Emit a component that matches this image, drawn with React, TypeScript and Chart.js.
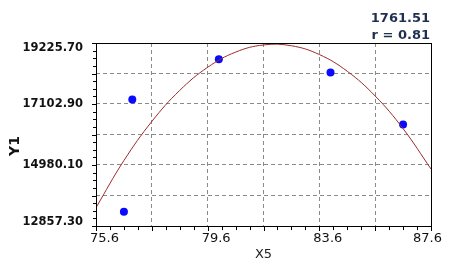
import React, { useEffect, useRef } from "react";
import { Chart, registerables } from "chart.js";

Chart.register(...registerables);

// ---- data ----
const pointX = [76.6, 76.9, 80.0, 84.0, 86.6];
const pointY = [13357, 17256, 18657, 18202, 16392];

const fitX = [75.6, 76.6, 77.6, 78.6, 79.6, 80.6, 81.6, 82.6, 83.6, 84.6, 85.6, 86.6, 87.6];
const fitY = [13497, 15135, 16495, 17577, 18381, 18908, 19158, 19130, 18825, 18242, 17382, 16245, 14841];

const xTickLabels = ["75.6", "79.6", "83.6", "87.6"];
const yTickLabels = ["12857.30", "14980.10", "17102.90", "19225.70"];
const statLines = ["1761.51", "r = 0.81"];
const xTitle = "X5";
const yTitle = "Y1";

const X_MIN = parseFloat(xTickLabels[0]);
const X_MAX = parseFloat(xTickLabels[xTickLabels.length - 1]);
const Y_MIN = parseFloat(yTickLabels[0]);
const Y_MAX = parseFloat(yTickLabels[yTickLabels.length - 1]);
const SUB = 8; // minor ticks per labelled interval
const GRID_EVERY = 4; // grid line every 4 minor ticks

function steps(min: number, max: number, n: number) {
  const out: number[] = [];
  for (let i = 0; i <= n; i++) out.push(min + ((max - min) * i) / n);
  return out;
}

const xTickVals = steps(X_MIN, X_MAX, (xTickLabels.length - 1) * SUB);
const yTickVals = steps(Y_MIN, Y_MAX, (yTickLabels.length - 1) * SUB);

const FONT = "'DejaVu Sans', Verdana, sans-serif";

export default function App() {
  const ref = useRef<HTMLCanvasElement | null>(null);

  useEffect(() => {
    document.body.style.margin = "0";
    const canvas = ref.current!;
    const overlay = {
      id: "overlay",
      afterDraw(chart: any) {
        const { ctx, chartArea } = chart;
        const xs = chart.scales.x;
        const ys = chart.scales.y;
        const L = Math.round(chartArea.left);
        const T = Math.round(chartArea.top);
        const R = Math.round(chartArea.right);
        const B = Math.round(chartArea.bottom);
        ctx.save();
        // frame
        ctx.strokeStyle = "#000";
        ctx.lineWidth = 1;
        ctx.strokeRect(L + 0.5, T + 0.5, R - L, B - T);
        // tick marks
        ctx.beginPath();
        xTickVals.forEach((v, i) => {
          const px = Math.round(xs.getPixelForValue(v)) + 0.5;
          const len = i % GRID_EVERY === 0 ? 4 : 3;
          ctx.moveTo(px, B + 1);
          ctx.lineTo(px, B + 1 + len);
        });
        yTickVals.forEach((v, i) => {
          const py = Math.round(ys.getPixelForValue(v)) + 0.5;
          const len = i % GRID_EVERY === 0 ? 4 : 3;
          ctx.moveTo(L, py);
          ctx.lineTo(L - len, py);
        });
        ctx.stroke();
        // y tick labels
        ctx.fillStyle = "#111";
        ctx.font = `bold 11.5px ${FONT}`;
        ctx.textAlign = "right";
        ctx.textBaseline = "middle";
        yTickLabels.forEach((t) => {
          let py = ys.getPixelForValue(parseFloat(t));
          py = Math.max(T + 5, Math.min(B - 4, py));
          ctx.fillText(t, 83, py);
        });
        // x tick labels
        ctx.fillStyle = "#111";
        ctx.font = `13px ${FONT}`;
        ctx.textAlign = "left";
        xTickLabels.forEach((t) => {
          const px = xs.getPixelForValue(parseFloat(t));
          const w = ctx.measureText(t).width;
          let left = px - 6;
          if (left + w > 442) left = 442 - w;
          ctx.fillText(t, left, B + 13);
        });
        // x title
        ctx.textAlign = "center";
        ctx.fillStyle = "#222";
        ctx.font = `13px ${FONT}`;
        ctx.fillText(xTitle, (L + R) / 2, 255);
        // y title
        ctx.save();
        ctx.translate(15, 146);
        ctx.rotate(-Math.PI / 2);
        ctx.font = `bold 14px ${FONT}`;
        ctx.fillStyle = "#111";
        ctx.textAlign = "center";
        ctx.fillText(yTitle, 0, 0);
        ctx.restore();
        // stats
        ctx.font = `bold 13px ${FONT}`;
        ctx.fillStyle = "#1f2f4f";
        ctx.textAlign = "right";
        ctx.fillText(statLines[0], 430, 19);
        ctx.fillText(statLines[1], 430, 36);
        ctx.restore();
      },
    };

    const gridColor = (n: number) => (c: any) =>
      c.index % GRID_EVERY === 0 && c.index !== 0 && c.index !== n - 1 ? "#8a8a8a" : "rgba(0,0,0,0)";

    const chart = new Chart(canvas, {
      type: "scatter",
      data: {
        datasets: [
          {
            data: fitX.map((x, i) => ({ x, y: fitY[i] })),
            showLine: true,
            borderColor: "#9e2a2a",
            borderWidth: 1,
            pointRadius: 0,
            tension: 0.4,
            fill: false,
          },
          {
            data: pointX.map((x, i) => ({ x, y: pointY[i] })),
            showLine: false,
            pointRadius: 4,
            pointBackgroundColor: "#0a0aff",
            pointBorderColor: "#0a0aff",
            pointBorderWidth: 0,
          },
        ],
      },
      options: {
        animation: false,
        responsive: false,
        maintainAspectRatio: false,
        devicePixelRatio: 1,
        layout: { padding: { left: 0, top: 43, right: 19, bottom: 0 } },
        plugins: { legend: { display: false }, tooltip: { enabled: false }, title: { display: false } },
        scales: {
          x: {
            type: "linear",
            min: X_MIN,
            max: X_MAX,
            afterBuildTicks: (s: any) => {
              s.ticks = xTickVals.map((v) => ({ value: v }));
            },
            afterFit: (s: any) => {
              s.height = 47;
            },
            ticks: { display: false, autoSkip: false },
            grid: { color: gridColor(xTickVals.length), drawTicks: false, lineWidth: 1 },
            border: { display: false, dash: [4, 3] },
          },
          y: {
            type: "linear",
            min: Y_MIN,
            max: Y_MAX,
            afterBuildTicks: (s: any) => {
              s.ticks = yTickVals.map((v) => ({ value: v }));
            },
            afterFit: (s: any) => {
              s.width = 96;
            },
            ticks: { display: false, autoSkip: false },
            grid: { color: gridColor(yTickVals.length), drawTicks: false, lineWidth: 1 },
            border: { display: false, dash: [4, 3] },
          },
        },
      },
      plugins: [overlay],
    } as any);
    return () => chart.destroy();
  }, []);

  return <canvas ref={ref} width={450} height={273} style={{ display: "block", width: 450, height: 273 }} />;
}
